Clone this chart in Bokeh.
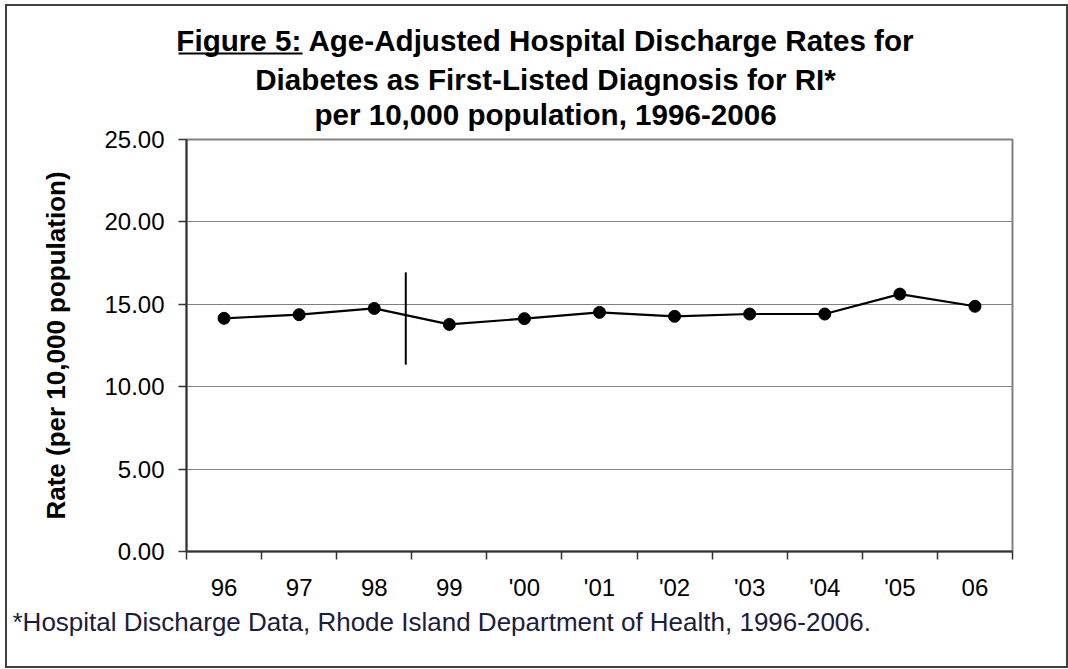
from bokeh.plotting import figure
from bokeh.layouts import column
from bokeh.models import (FactorRange, Range1d, LinearAxis, CategoricalAxis, FixedTicker,
                          NumeralTickFormatter, Label, Arrow, ColumnDataSource,
                          InlineStyleSheet)
from bokeh.embed import file_html
from bokeh.resources import INLINE

# ---- data ----
years = ["96", "97", "98", "99", "'00", "'01", "'02", "'03", "'04", "'05", "06"]
rates = [14.15, 14.37, 14.75, 13.78, 14.13, 14.51, 14.27, 14.41, 14.41, 15.62, 14.88]
y_ticks = [0, 5, 10, 15, 20, 25]
edge_ticks = list(range(12))          # category boundaries (synthetic coords)
title_lines = ["Figure 5: Age-Adjusted Hospital Discharge Rates for",
               "Diabetes as First-Listed Diagnosis for RI*",
               "per 10,000 population, 1996-2006"]
y_label = "Rate (per 10,000 population)"
footnote = "*Hospital Discharge Data, Rhode Island Department of Health, 1996-2006."
break_x = [("98", 0.42)]      # break marker between 98 and 99
break_y0 = [11.34]
break_y1 = [16.94]

FONT = "Liberation Sans"
AXIS_COL = "#333333"
GRID_COL = "#808080"
W = 1068
H_TITLE, H_MAIN, H_FOOT, OVERLAP = 141, 482, 66, 20


def blank_fig(h):
    f = figure(width=W, height=h, x_range=Range1d(0, 1), y_range=Range1d(0, 1),
               x_axis_location=None, y_axis_location=None,
               output_backend="svg", toolbar_location=None, frame_align=False,
               min_border_left=0, min_border_right=0, min_border_top=0, min_border_bottom=0)
    f.xgrid.visible = False
    f.ygrid.visible = False
    f.outline_line_color = None
    f.background_fill_color = "white"
    f.border_fill_color = "white"
    return f


# ---- title block ----
tf = blank_fig(H_TITLE)
title_y = [101, 62, 27]
for txt, ty in zip(title_lines, title_y):
    tf.add_layout(Label(x=545, y=ty, x_units="screen", y_units="screen", text=txt,
                        text_font=FONT, text_font_size="29.6px", text_font_style="bold",
                        text_align="center", text_baseline="alphabetic", text_color="black"))
tf.add_layout(Arrow(end=None, x_start=178, y_start=88, x_end=302, y_end=88,
                    start_units="screen", end_units="screen",
                    line_color="black", line_width=2))

# ---- main chart (its transparent top border overlaps the title block) ----
p = figure(width=W, height=H_MAIN,
           x_range=FactorRange(factors=years), y_range=Range1d(0, 25),
           x_axis_location=None, y_axis_location="left",
           output_backend="svg", toolbar_location=None, frame_align=False,
           min_border_left=186, min_border_right=56,
           min_border_top=18, min_border_bottom=52)
p.styles = {"margin-top": f"-{OVERLAP}px"}
p.background_fill_color = "white"
p.border_fill_color = None
p.outline_line_color = GRID_COL
p.outline_line_width = 2

p.xgrid.visible = False
p.ygrid.grid_line_color = GRID_COL
p.ygrid.grid_line_width = 1

ya = p.yaxis[0]
ya.ticker = FixedTicker(ticks=y_ticks)
ya.formatter = NumeralTickFormatter(format="0.00")
ya.major_tick_out = 8
ya.major_tick_in = 0
ya.minor_tick_line_color = None
ya.axis_line_color = AXIS_COL
ya.axis_line_width = 2
ya.major_tick_line_color = AXIS_COL
ya.major_tick_line_width = 1.5
ya.major_label_text_font = FONT
ya.major_label_text_font_size = "24px"
ya.major_label_text_color = "black"
ya.major_label_standoff = 14
ya.axis_label = y_label
ya.axis_label_text_font = FONT
ya.axis_label_text_font_size = "26px"
ya.axis_label_text_font_style = "bold"
ya.axis_label_text_color = "black"
ya.axis_label_standoff = 30

edge_axis = LinearAxis(ticker=FixedTicker(ticks=edge_ticks),
                       major_label_text_font_size="0px", major_label_text_color=None,
                       major_label_standoff=0, major_tick_in=0, major_tick_out=8,
                       minor_tick_line_color=None, axis_line_color=AXIS_COL,
                       axis_line_width=2, major_tick_line_color=AXIS_COL,
                       major_tick_line_width=1.5)
p.add_layout(edge_axis, "below")
cat_axis = CategoricalAxis(axis_line_color=None, major_tick_line_color=None,
                           major_tick_out=0, major_tick_in=0, major_label_standoff=14,
                           major_label_text_font=FONT, major_label_text_font_size="24px",
                           major_label_text_color="black")
p.add_layout(cat_axis, "below")

src = ColumnDataSource(data=dict(x=years, y=rates))
p.line("x", "y", source=src, line_color="black", line_width=2.2)
p.scatter("x", "y", source=src, size=12, fill_color="black", line_color="black")
brk = ColumnDataSource(data=dict(x=break_x, y0=break_y0, y1=break_y1))
p.segment(x0="x", y0="y0", x1="x", y1="y1", source=brk,
          line_color="black", line_width=2)

# ---- footnote ----
ff = blank_fig(H_FOOT)
ff.add_layout(Label(x=12, y=48, x_units="screen", y_units="screen", text=footnote,
                    text_font=FONT, text_font_size="26px", text_align="left",
                    text_baseline="alphabetic", text_color="#1c1c3c"))

frame_css = InlineStyleSheet(css="""
:host::after {
  content: '';
  position: absolute;
  left: 5px; top: 4px;
  width: 1059px; height: 660px;
  border: 2px solid #404040;
  pointer-events: none;
  z-index: 10;
}
""")
layout = column(tf, p, ff, spacing=0, stylesheets=[frame_css])

open("out.html", "w").write(file_html(layout, INLINE))
